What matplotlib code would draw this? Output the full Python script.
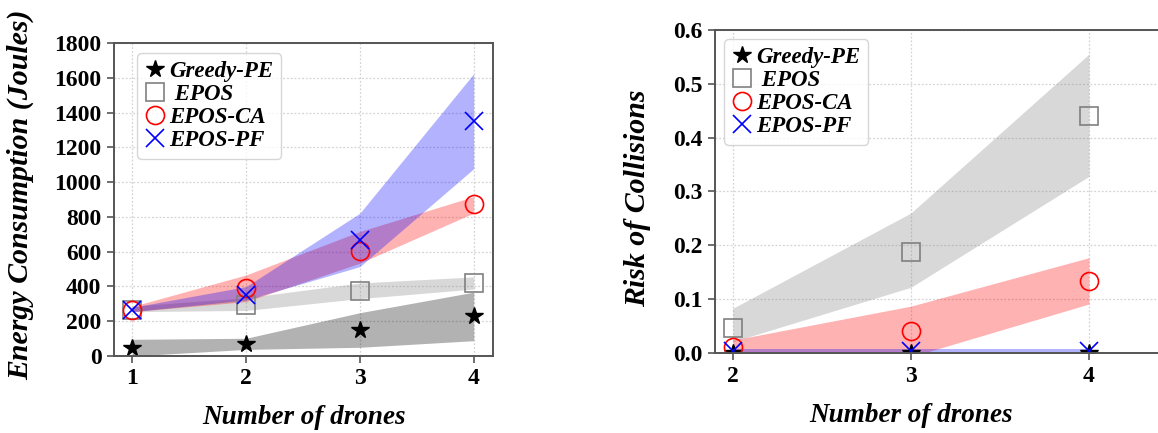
import matplotlib
matplotlib.use("Agg")
import matplotlib.pyplot as plt
from matplotlib.ticker import FormatStrFormatter

# ---------------- data ----------------
drones_energy = [1, 2, 3, 4]
greedy_energy = [48, 67, 150, 230]
greedy_energy_lo = [0, 38, 50, 88]
greedy_energy_hi = [96, 102, 249, 367]
epos_energy = [265, 293, 376, 418]
epos_energy_lo = [255, 262, 330, 385]
epos_energy_hi = [287, 335, 420, 455]
ca_energy = [265, 390, 606, 875]
ca_energy_lo = [255, 313, 534, 822]
ca_energy_hi = [285, 466, 716, 917]
pf_energy = [265, 351, 668, 1349]
pf_energy_lo = [255, 322, 514, 1077]
pf_energy_hi = [280, 399, 821, 1623]

drones_risk = [2, 3, 4]
greedy_risk = [0.0, 0.0, 0.0]
greedy_risk_lo = [0.0, 0.0, 0.0]
greedy_risk_hi = [0.0, 0.0, 0.0]
epos_risk = [0.046, 0.188, 0.441]
epos_risk_lo = [0.021, 0.122, 0.328]
epos_risk_hi = [0.083, 0.260, 0.555]
ca_risk = [0.011, 0.041, 0.134]
ca_risk_lo = [-0.003, -0.007, 0.091]
ca_risk_hi = [0.024, 0.087, 0.177]
pf_risk = [0.003, 0.003, 0.003]
pf_risk_lo = [-0.001, -0.001, -0.001]
pf_risk_hi = [0.007, 0.007, 0.007]

labels = ["Greedy-PE", " EPOS", "EPOS-CA", "EPOS-PF"]
energy_ticks = [0, 200, 400, 600, 800, 1000, 1200, 1400, 1600, 1800]
risk_ticks = [0.0, 0.1, 0.2, 0.3, 0.4, 0.5, 0.6]

# ---------------- style ----------------
SERIF = ["Liberation Serif", "DejaVu Serif"]
plt.rcParams["font.family"] = SERIF
ylabel_font = dict(family=SERIF, weight="bold", style="italic", size=21.5)
xlabel_font = dict(family=SERIF, weight="bold", style="italic", size=19.5)
ms = 13

fig = plt.figure(figsize=(11.58, 4.33), dpi=100)
ax1 = fig.add_axes([114 / 1158, 77 / 433, 379 / 1158, 313 / 433])
ax2 = fig.add_axes([715 / 1158, 80 / 433, 454 / 1158, 323 / 433])


def style_axes(ax):
    ax.grid(True, linestyle=(0, (1.5, 1.5)), color="#d4d4d4", linewidth=0.9)
    ax.set_axisbelow(True)
    for s in ax.spines.values():
        s.set_color("#555555")
        s.set_linewidth(1.4)
    ax.tick_params(axis="both", direction="out", length=5, width=1.2,
                   color="#555555", pad=4)
    for t in ax.get_xticklabels() + ax.get_yticklabels():
        t.set_fontfamily(SERIF)
        t.set_fontweight("bold")
        t.set_fontsize(17)


def draw(ax, x, series, anchor):
    for (y, lo, hi, fc, marker, mfc, mec, mew, lab) in series:
        ax.fill_between(x, lo, hi, color=fc, alpha=0.3, linewidth=0)
    handles = []
    for (y, lo, hi, fc, marker, mfc, mec, mew, lab) in series:
        h, = ax.plot(x, y, linestyle="none", marker=marker, markersize=ms,
                     markerfacecolor=mfc, markeredgecolor=mec,
                     markeredgewidth=mew, label=lab)
        handles.append(h)
    leg = ax.legend(handles=handles, loc="upper left",
                    bbox_to_anchor=anchor,
                    prop=dict(family=SERIF, weight="bold", style="italic", size=16.5),
                    handlelength=0.9, handletextpad=0.15, labelspacing=0.08,
                    borderpad=0.35, borderaxespad=0.0, markerscale=1.0,
                    fancybox=True, framealpha=0.8, edgecolor="#cccccc")
    return leg


series_energy = [
    (greedy_energy, greedy_energy_lo, greedy_energy_hi, "black", "*", "black", "black", 1.0, labels[0]),
    (epos_energy, epos_energy_lo, epos_energy_hi, "gray", "s", "none", "gray", 1.2, labels[1]),
    (ca_energy, ca_energy_lo, ca_energy_hi, "red", "o", "none", "red", 1.2, labels[2]),
    (pf_energy, pf_energy_lo, pf_energy_hi, "blue", "x", "none", "blue", 1.2, labels[3]),
]
draw(ax1, drones_energy, series_energy, (23 / 379, 1 - 10 / 313))
ax1.set_xlim(0.84, 4.17)
ax1.set_ylim(0, 1800)
ax1.set_xticks(drones_energy)
ax1.set_yticks(energy_ticks)
style_axes(ax1)
ax1.set_ylabel("Energy Consumption (Joules)", **ylabel_font)
ax1.set_xlabel("Number of drones", **xlabel_font)
ax1.yaxis.set_label_coords(-0.211, 0.516)
ax1.xaxis.set_label_coords(0.5, -0.155)

series_risk = [
    (greedy_risk, greedy_risk_lo, greedy_risk_hi, "black", "*", "black", "black", 1.0, labels[0]),
    (epos_risk, epos_risk_lo, epos_risk_hi, "gray", "s", "none", "gray", 1.2, labels[1]),
    (ca_risk, ca_risk_lo, ca_risk_hi, "red", "o", "none", "red", 1.2, labels[2]),
    (pf_risk, pf_risk_lo, pf_risk_hi, "blue", "x", "none", "blue", 1.2, labels[3]),
]
draw(ax2, drones_risk, series_risk, (9 / 454, 1 - 9 / 323))
ax2.set_xlim(1.9, 4.45)
ax2.set_ylim(0, 0.6)
ax2.set_xticks(drones_risk)
ax2.set_yticks(risk_ticks)
ax2.yaxis.set_major_formatter(FormatStrFormatter("%.1f"))
style_axes(ax2)
ax2.set_ylabel("Risk of Collisions", **ylabel_font)
ax2.set_xlabel("Number of drones", **xlabel_font)
ax2.yaxis.set_label_coords(-0.141, 0.48)
ax2.xaxis.set_label_coords((3 - 1.9) / 2.55, -0.155)

fig.savefig("out.png", dpi=100)
